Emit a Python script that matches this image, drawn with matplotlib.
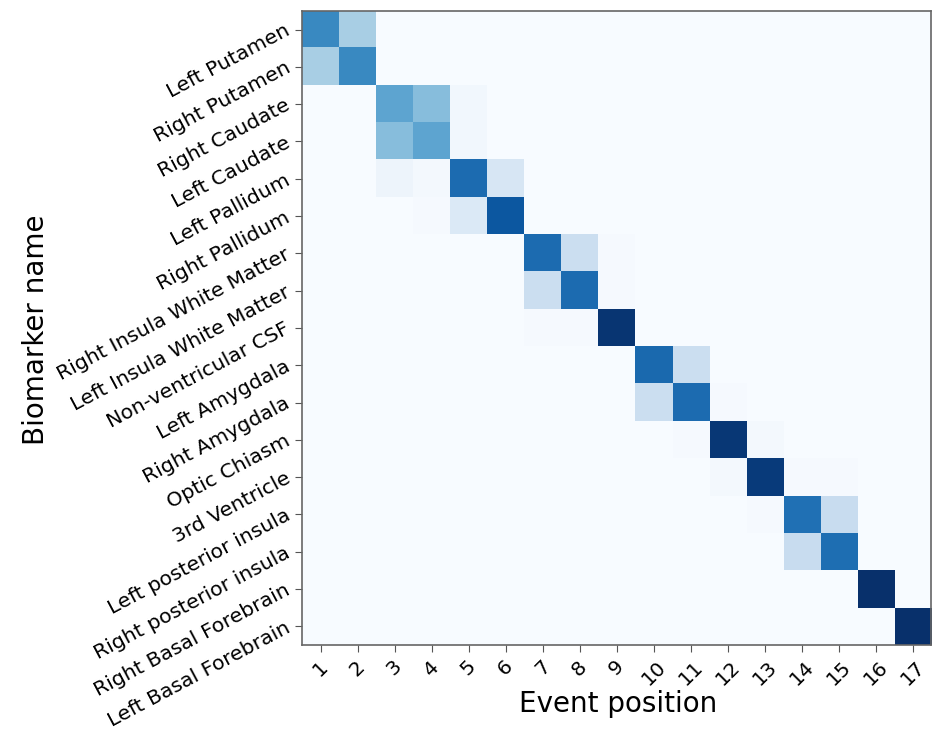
import numpy as np
import matplotlib
matplotlib.use("Agg")
import matplotlib.pyplot as plt

biomarkers = [
    "Left Putamen", "Right Putamen", "Right Caudate", "Left Caudate",
    "Left Pallidum", "Right Pallidum", "Right Insula White Matter",
    "Left Insula White Matter", "Non-ventricular CSF", "Left Amygdala",
    "Right Amygdala", "Optic Chiasm", "3rd Ventricle", "Left posterior insula",
    "Right posterior insula", "Right Basal Forebrain", "Left Basal Forebrain",
]
event_positions = [str(i) for i in range(1, 18)]

# Positional variance: probability of each biomarker (row) at each event position (column)
row_left_putamen = [0.66, 0.34, 0, 0, 0, 0, 0, 0, 0, 0, 0, 0, 0, 0, 0, 0, 0]
row_right_putamen = [0.34, 0.66, 0, 0, 0, 0, 0, 0, 0, 0, 0, 0, 0, 0, 0, 0, 0]
row_right_caudate = [0, 0, 0.54, 0.43, 0.03, 0, 0, 0, 0, 0, 0, 0, 0, 0, 0, 0, 0]
row_left_caudate = [0, 0, 0.43, 0.54, 0.03, 0, 0, 0, 0, 0, 0, 0, 0, 0, 0, 0, 0]
row_left_pallidum = [0, 0, 0.05, 0.02, 0.77, 0.16, 0, 0, 0, 0, 0, 0, 0, 0, 0, 0, 0]
row_right_pallidum = [0, 0, 0, 0.01, 0.14, 0.85, 0, 0, 0, 0, 0, 0, 0, 0, 0, 0, 0]
row_right_insula_wm = [0, 0, 0, 0, 0, 0, 0.77, 0.22, 0.01, 0, 0, 0, 0, 0, 0, 0, 0]
row_left_insula_wm = [0, 0, 0, 0, 0, 0, 0.22, 0.77, 0.01, 0, 0, 0, 0, 0, 0, 0, 0]
row_csf = [0, 0, 0, 0, 0, 0, 0.01, 0.01, 0.98, 0, 0, 0, 0, 0, 0, 0, 0]
row_left_amygdala = [0, 0, 0, 0, 0, 0, 0, 0, 0, 0.78, 0.22, 0, 0, 0, 0, 0, 0]
row_right_amygdala = [0, 0, 0, 0, 0, 0, 0, 0, 0, 0.22, 0.77, 0.01, 0, 0, 0, 0, 0]
row_optic_chiasm = [0, 0, 0, 0, 0, 0, 0, 0, 0, 0, 0.01, 0.97, 0.02, 0, 0, 0, 0]
row_3rd_ventricle = [0, 0, 0, 0, 0, 0, 0, 0, 0, 0, 0, 0.02, 0.96, 0.01, 0.01, 0, 0]
row_left_post_insula = [0, 0, 0, 0, 0, 0, 0, 0, 0, 0, 0, 0, 0.01, 0.75, 0.24, 0, 0]
row_right_post_insula = [0, 0, 0, 0, 0, 0, 0, 0, 0, 0, 0, 0, 0, 0.24, 0.76, 0, 0]
row_right_basal_forebrain = [0, 0, 0, 0, 0, 0, 0, 0, 0, 0, 0, 0, 0, 0, 0, 1.0, 0]
row_left_basal_forebrain = [0, 0, 0, 0, 0, 0, 0, 0, 0, 0, 0, 0, 0, 0, 0, 0, 1.0]

matrix = np.array([
    row_left_putamen, row_right_putamen, row_right_caudate, row_left_caudate,
    row_left_pallidum, row_right_pallidum, row_right_insula_wm, row_left_insula_wm,
    row_csf, row_left_amygdala, row_right_amygdala, row_optic_chiasm,
    row_3rd_ventricle, row_left_post_insula, row_right_post_insula,
    row_right_basal_forebrain, row_left_basal_forebrain,
])

fig = plt.figure(figsize=(9.33, 7.29), dpi=100)
ax = fig.add_axes([0.3237, 0.1152, 0.6743, 0.8698])
ax.imshow(matrix, cmap="Blues", vmin=0, vmax=1, aspect="auto",
          interpolation="nearest")

ax.set_xticks(np.arange(len(event_positions)))
ax.set_xticklabels(event_positions, rotation=45, ha="center", fontsize=14.5)
ax.set_yticks(np.arange(len(biomarkers)))
ax.set_yticklabels(biomarkers, rotation=28, ha="right", va="center",
                   rotation_mode="anchor", fontsize=14.7)
ax.tick_params(length=5, color="#555555")
ax.tick_params(axis="y", pad=4.5)
for s in ax.spines.values():
    s.set_color("#666666")
    s.set_linewidth(1.2)

ax.set_xlabel("Event position", fontsize=20)
ax.set_ylabel("Biomarker name", fontsize=20)
ax.xaxis.set_label_coords(618 / 933, 1 - 690 / 729, transform=fig.transFigure)
ax.yaxis.set_label_coords(50 / 933, 1 - 330 / 729, transform=fig.transFigure)

fig.savefig("out.png", dpi=100)
